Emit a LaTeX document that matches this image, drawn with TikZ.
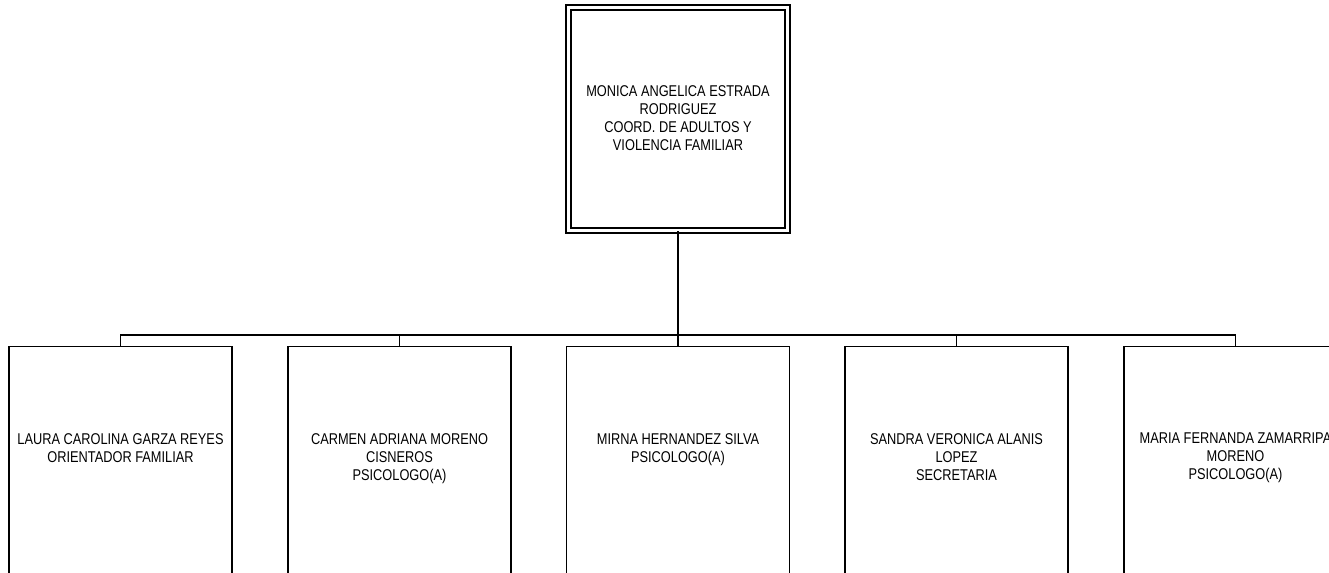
\documentclass[tikz,border=0pt]{standalone}
\usepackage{fontspec}
\setmainfont[FakeStretch=0.82]{Liberation Sans}
\begin{document}
\begin{tikzpicture}[x=0.75pt,y=-0.75pt,
  line width=1.1pt,
  boxline/.style={draw=black, line width=1.1pt},
  topbox/.style={draw=black, line width=1.1pt, double=white, double distance=2.6pt,
    rectangle, minimum width=164.25pt, minimum height=167.25pt, inner sep=0pt},
  childbox/.style={draw=black, line width=1.1pt, rectangle, anchor=north,
    minimum width=167.25pt, minimum height=190pt, inner sep=0pt},
  txt/.style={font=\fontsize{11.7pt}{13.5pt}\selectfont, align=center, inner sep=0pt, anchor=north},
  conn/.style={draw=black, line width=1.3pt}
]
\useasboundingbox (0,0) rectangle (1329,573);
\clip (0,0) rectangle (1329,573);
\fill[white] (0,0) rectangle (1329,573);

% top box
\node[topbox] (top) at (678,119) {};
\node[txt] (ttop) at (678,84.4) {MONICA ANGELICA ESTRADA\\RODRIGUEZ\\COORD. DE ADULTOS Y\\VIOLENCIA FAMILIAR};

% children
\node[childbox] (c1) at (120.5,346) {};
\node[childbox] (c2) at (399.5,346) {};
\node[childbox] (c3) at (678,346) {};
\node[childbox] (c4) at (956.5,346) {};
\node[childbox] (c5) at (1235.5,346) {};

\node[txt] (t1) at (120.5,432.5) {LAURA CAROLINA GARZA REYES\\ORIENTADOR FAMILIAR};
\node[txt] (t2) at (399.5,432.5) {CARMEN ADRIANA MORENO\\CISNEROS\\PSICOLOGO(A)};
\node[txt] (t3) at (678,432.5) {MIRNA HERNANDEZ SILVA\\PSICOLOGO(A)};
\node[txt] (t4) at (956.5,432.5) {SANDRA VERONICA ALANIS\\LOPEZ\\SECRETARIA};
\node[txt] (t5) at (1235.5,432.5) {MARIA FERNANDA ZAMARRIPA\\MORENO\\PSICOLOGO(A)};

% connectors
\coordinate (bus) at (678,335);
\draw[conn] (top.south) -- (c3.north);
\draw[conn] (bus) -| (c1.north);
\draw[conn] (bus) -| (c2.north);
\draw[conn] (bus) -| (c4.north);
\draw[conn] (bus) -| (c5.north);
\end{tikzpicture}
\end{document}
